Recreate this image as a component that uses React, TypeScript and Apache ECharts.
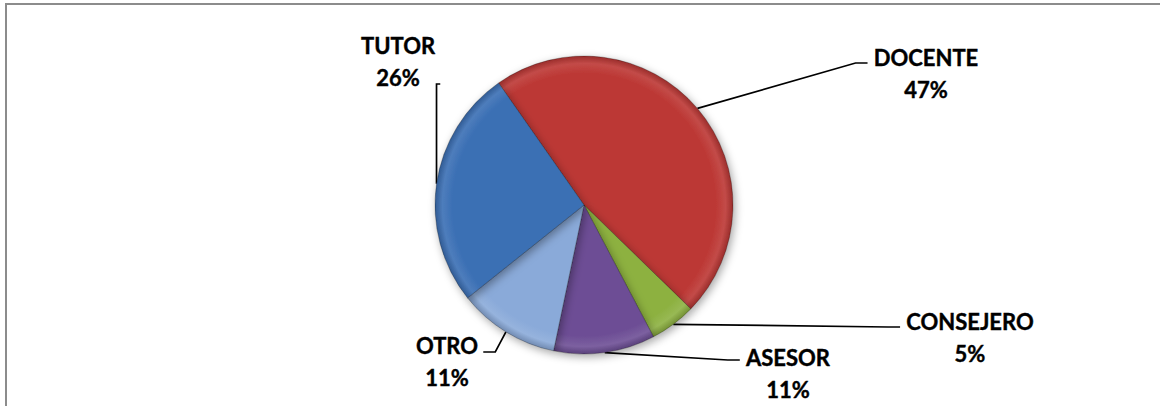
import React, { useEffect, useRef } from "react";
import * as echarts from "echarts";

const categories = ["DOCENTE", "CONSEJERO", "ASESOR", "OTRO", "TUTOR"];
const percentValues = [47, 5, 11, 11, 26];
const sliceColors = ["#BC3734", "#8DB141", "#6D4E95", "#8AAAD9", "#3A6FB4"];

// label block layout (centre x, top y, leader line y offset, side)
const labelLayouts = [
  { cx: 926, top: 41, lineDy: 22, side: "right", vertical: false },
  { cx: 970, top: 305, lineDy: 22, side: "right", vertical: false },
  { cx: 788, top: 341, lineDy: 19, side: "right", vertical: false },
  { cx: 447, top: 329, lineDy: 23, side: "left", vertical: false },
  { cx: 398, top: 29, lineDy: 55, side: "left", vertical: true },
];

const CX = 584;
const CY = 205;
const R = 149;

function shade(hex: string, f: number): string {
  const n = parseInt(hex.slice(1), 16);
  let r = (n >> 16) & 255, g = (n >> 8) & 255, b = n & 255;
  if (f >= 0) {
    r = Math.round(r + (255 - r) * f); g = Math.round(g + (255 - g) * f); b = Math.round(b + (255 - b) * f);
  } else {
    r = Math.round(r * (1 + f)); g = Math.round(g * (1 + f)); b = Math.round(b * (1 + f));
  }
  return `rgb(${r},${g},${b})`;
}

export default function App() {
  const ref = useRef<HTMLDivElement>(null);
  useEffect(() => {
    if (!ref.current) return;
    const chart = echarts.init(ref.current, null, { renderer: "svg" });
    const data = categories.map((name, i) => ({
      name,
      value: percentValues[i],
      itemStyle: {
        color: {
          type: "radial",
          x: CX,
          y: CY,
          r: R,
          global: true,
          colorStops: [
            { offset: 0, color: sliceColors[i] },
            { offset: 0.88, color: sliceColors[i] },
            { offset: 0.95, color: shade(sliceColors[i], 0.1) },
            { offset: 1, color: shade(sliceColors[i], -0.18) },
          ],
        },
      },
    }));
    chart.setOption({
      animation: false,
      backgroundColor: "#ffffff",
      graphic: [
        {
          type: "rect",
          silent: true,
          shape: { x: 6, y: 4, width: 1300, height: 500 },
          style: { fill: "none", stroke: "#8c8c8c", lineWidth: 2 },
        },
      ],
      series: [
        {
          type: "pie",
          center: [CX, CY],
          radius: R,
          startAngle: 125,
          clockwise: true,
          percentPrecision: 0,
          avoidLabelOverlap: false,
          data,
          itemStyle: {
            borderColor: "rgba(0,0,0,0.25)",
            borderWidth: 1,
            shadowBlur: 8,
            shadowOffsetX: 2,
            shadowOffsetY: 3,
            shadowColor: "rgba(0,0,0,0.35)",
          },
          label: {
            show: true,
            position: "outside",
            formatter: "{b}\n{d}%",
            fontFamily: "Lato",
            fontWeight: "bold",
            fontSize: 22,
            lineHeight: 32,
            color: "#000",
            textBorderColor: "#000",
            textBorderWidth: 0.4,
            align: "center",
          },
          labelLine: {
            show: true,
            length: 20,
            length2: 20,
            lineStyle: { color: "#000", width: 1.7 },
          },
          labelLayout: (params: any) => {
            const L = labelLayouts[params.dataIndex];
            const w = params.labelRect.width;
            const x0 = L.cx - w / 2;
            const a = params.labelLinePoints ? params.labelLinePoints[0] : [CX, CY];
            const y = L.top + L.lineDy;
            let pts: number[][];
            if (L.side === "left") {
              const ex = x0 + w + 5;
              pts = L.vertical ? [a, [a[0], y], [ex, y]] : [a, [ex + 12, y], [ex, y]];
            } else {
              const ex = x0 - 6;
              pts = [a, [ex - 12, y], [ex, y]];
            }
            return {
              x: L.cx,
              y: L.top,
              align: "center",
              verticalAlign: "top",
              labelLinePoints: pts,
            };
          },
        },
      ],
    });
    return () => chart.dispose();
  }, []);
  return (
    <div
      ref={ref}
      style={{ position: "absolute", left: 0, top: 0, width: 1160, height: 406 }}
    />
  );
}
